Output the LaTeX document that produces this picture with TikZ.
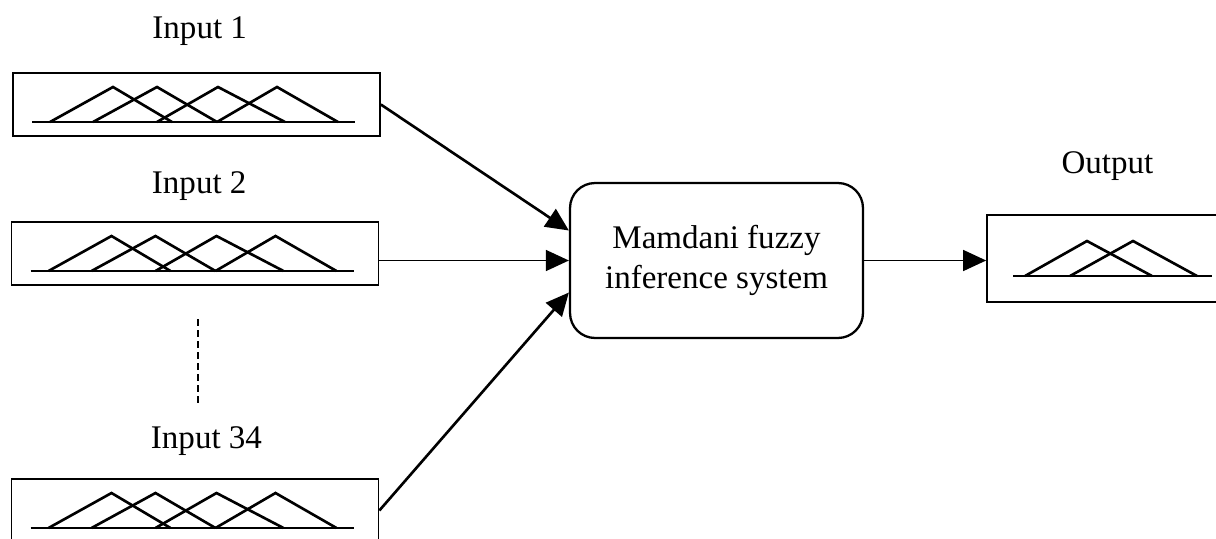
\documentclass[tikz,border=0pt]{standalone}
\usepackage{fontspec}
\setmainfont{Liberation Serif}
\usetikzlibrary{arrows.meta,positioning}

\begin{document}
\begin{tikzpicture}[
  x=0.02cm, y=-0.02cm,
  font=\fontsize{18.8}{22.8}\selectfont,
  inbox/.style={draw, line width=1pt, minimum width=7.34cm, minimum height=1.26cm, inner sep=0},
  fis/.style={draw, line width=1.3pt, rounded corners=0.5cm, align=center, minimum width=5.86cm, minimum height=3.1cm},
  outbox/.style={draw, line width=1pt, minimum width=4.9cm, minimum height=1.74cm, inner sep=0},
  lbl/.style={inner sep=0},
  base/.style={line width=0.8pt},
  mf/.style={line width=1.5pt},
  arrow/.style={-{Triangle[length=0.46cm, width=0.42cm]}, line width=1.5pt}
]
\useasboundingbox (0,0) rectangle (1216,538);

% fuzzy sets of the inputs
\node[inbox] (in1) at (196.5,104.5) {};
\node[inbox] (in2) at (195,253.5) {};
\node[inbox] (in34) at (195,510.5) {};
\node[lbl, above right=0.52cm and 2.8cm of in1.north west] (lin1) {Input 1};
\node[lbl, above right=0.4cm and 2.82cm of in2.north west] (lin2) {Input 2};
\node[lbl, above right=0.44cm and 2.8cm of in34.north west] (lin34) {Input 34};

\foreach \b in {in1,in2,in34}{
  \begin{scope}[shift={(\b.center)}]
    \draw[base] (-164.5,17.5) -- (158.5,17.5);
    \foreach \l/\p/\r in {-146.5/-83.5/-24.5, -103.5/-39.5/20.5, -39.5/21.5/88.5, 20.5/80.5/141.5}
      \draw[mf] (\l,17.5) -- (\p,-17.5) -- (\r,17.5);
  \end{scope}
}

\draw[base, dash pattern=on 4pt off 2.3pt] (198,319) -- (198,403);

% inference system
\node[fis] (mfis) at (716.5,260.5) {Mamdani fuzzy\\inference system};

% output
\node[outbox] (out) at (1109.5,258.5) {};
\node[lbl, above right=0.66cm and 1.5cm of out.north west] (lout) {Output};
\begin{scope}[shift={(out.center)}]
  \draw[base] (-96.5,17.5) -- (102.5,17.5);
  \foreach \l/\p/\r in {-84.5/-22.5/42.5, -39.5/23.5/87.5}
    \draw[mf] (\l,17.5) -- (\p,-17.5) -- (\r,17.5);
\end{scope}

\draw[arrow] (in1.east) -- ([yshift=0.6cm]mfis.west);
\draw[arrow, line width=0.8pt] (in2.east |- mfis.west) -- (mfis.west);
\draw[arrow] (in34.east) -- ([yshift=-0.64cm]mfis.west);
\draw[arrow, line width=0.8pt] (mfis.east) -- (mfis.east -| out.west);
\end{tikzpicture}
\end{document}
